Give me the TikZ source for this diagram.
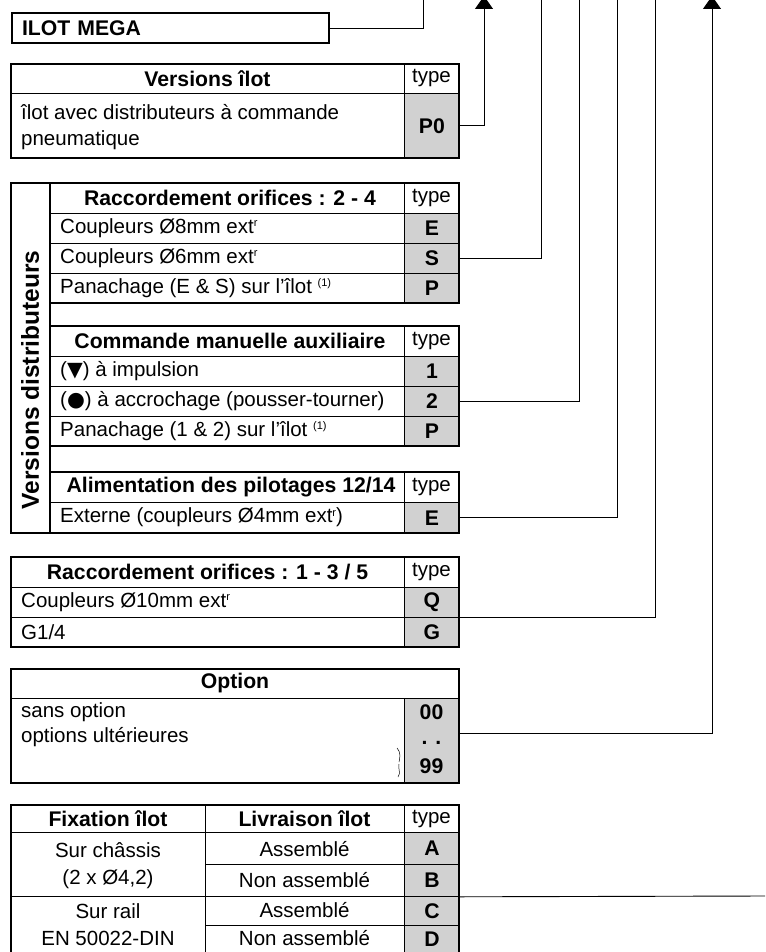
\documentclass[tikz,border=0pt]{standalone}
\usepackage{fontspec}
\setmainfont{Liberation Sans}
\newfontfamily\symfont{DejaVu Sans}
\usetikzlibrary{arrows.meta}

\newcommand\bigfont{\fontsize{20.5}{24}\selectfont}
\newcommand\boldfont{\fontsize{21.2}{24}\selectfont\bfseries}
\newcommand\supr[1]{\raisebox{0.6ex}{\fontsize{11}{11}\selectfont #1}}

\tikzset{
  frame/.style={draw, line width=2pt},
  rule/.style={line width=0.8pt},
  link/.style={line width=0.9pt},
  typecell/.style={draw, line width=0.8pt, fill=black!18, anchor=north west,
    minimum width=55pt, inner sep=0pt, font=\boldfont},
  head/.style={font=\boldfont},
  txt/.style={anchor=west, inner sep=0pt},
  up/.style={link, -{Triangle[length=13pt,width=18pt]}},
}

\begin{document}
\begin{tikzpicture}[x=1pt, y=-1pt, font=\bigfont]
    \useasboundingbox (0,0) rectangle (765,952);

    % ilot
    \node[frame, anchor=north west, minimum height=30pt, text width=297pt,
      inner xsep=10pt, inner ysep=0pt, font=\boldfont] (ilot) at (11,12) {ILOT MEGA};

    % versions ilot
    \draw[rule] (11,93) -- (459,93) (404,64) -- (404,93);
    \node[typecell, minimum height=65pt] (tP0) at (404,93) {P0};
    \draw[frame] (11,64) rectangle (459,158);
    \node[head] (hIlot) at (207.5,78.5) {Versions îlot};
    \node (yIlot) at (431.5,78.5) {type};
    \node[txt] (vIlot1) at (21,112) {îlot avec distributeurs à commande};
    \node[txt] (vIlot2) at (21,140) {pneumatique};

    % versions distributeurs
    \draw[frame] (11,183) rectangle (50,533);
    \node[rotate=90, font=\fontsize{24.5}{26}\selectfont\bfseries] (vDist) at (30,380) {Versions distributeurs};

    % raccordement 2-4
    \draw[rule] (50,213) -- (404,213) (50,243) -- (404,243) (50,273) -- (404,273)
      (404,183) -- (404,213);
    \node[typecell, minimum height=30pt] (tE1) at (404,213) {E};
    \node[typecell, minimum height=30pt] (tS) at (404,243) {S};
    \node[typecell, minimum height=30pt] (tP1) at (404,273) {P};
    \draw[frame] (50,183) rectangle (459,303);
    \node[head] (hRa) at (230,198) {Raccordement orifices : 2 - 4};
    \node (yRa) at (431.5,198) {type};
    \node[txt] (ra1) at (60,228) {Coupleurs Ø8mm ext\supr{r}};
    \node[txt] (ra2) at (60,258) {Coupleurs Ø6mm ext\supr{r}};
    \node[txt] (ra3) at (60,288) {Panachage (E \& S) sur l’îlot \supr{(1)}};

    % commande manuelle
    \draw[rule] (50,356) -- (404,356) (50,386) -- (404,386) (50,416) -- (404,416)
      (404,326) -- (404,356);
    \node[typecell, minimum height=30pt] (t1) at (404,356) {1};
    \node[typecell, minimum height=30pt] (t2) at (404,386) {2};
    \node[typecell, minimum height=30pt] (tP2) at (404,416) {P};
    \draw[frame] (50,326) rectangle (459,446);
    \node[head] (hCm) at (230,341) {Commande manuelle auxiliaire};
    \node (yCm) at (431.5,341) {type};
    \node[txt] (cm1) at (60,371) {({\symfont ▼}) à impulsion};
    \node[txt] (cm2) at (60,401) {({\symfont ●}) à accrochage (pousser-tourner)};
    \node[txt] (cm3) at (60,431) {Panachage (1 \& 2) sur l’îlot \supr{(1)}};

    % alimentation pilotages
    \draw[rule] (50,502) -- (404,502) (404,472) -- (404,502);
    \node[typecell, minimum height=31pt] (tE2) at (404,502) {E};
    \draw[frame] (50,472) rectangle (459,533);
    \node[head] (hAl) at (231,487) {Alimentation des pilotages 12/14};
    \node (yAl) at (431.5,487) {type};
    \node[txt] (al1) at (60,517.5) {Externe (coupleurs Ø4mm ext\supr{r})};

    % raccordement 1-3/5
    \draw[rule] (11,587) -- (404,587) (11,617) -- (404,617) (404,557) -- (404,587);
    \node[typecell, minimum height=30pt] (tQ) at (404,587) {Q};
    \node[typecell, minimum height=30pt] (tG) at (404,617) {G};
    \draw[frame] (11,557) rectangle (459,647);
    \node[head] (hRb) at (207.5,572) {Raccordement orifices : 1 - 3 / 5};
    \node (yRb) at (431.5,572) {type};
    \node[txt] (rb1) at (21,602) {Coupleurs Ø10mm ext\supr{r}};
    \node[txt] (rb2) at (21,632) {G1/4};

    % option
    \draw[rule] (11,698) -- (459,698);
    \node[typecell, minimum height=85pt] (tOpt) at (404,698) {};
    \draw[frame] (11,669) rectangle (459,783);
    \node[head] (hOpt) at (235,683.5) {Option};
    \node[txt] (op1) at (21,712) {sans option};
    \node[txt] (op2) at (21,737) {options ultérieures};
    \node[head] (o00) at (431.5,712) {00};
    \node[head] (oDots) at (431.5,743) {. .};
    \node[head] (o99) at (431.5,766) {99};
    \draw[line width=0.5pt] (397,748) .. controls (401,752) and (400,758) .. (399,762)
      (399,764) .. controls (398,769) and (401,773) .. (398,777);

    % fixation / livraison
    \draw[rule] (11,832) -- (404,832) (11,896) -- (404,896)
      (205,864) -- (404,864) (205,925) -- (404,925)
      (205,805) -- (205,960) (404,805) -- (404,832);
    \node[typecell, minimum height=32pt] (tA) at (404,832) {A};
    \node[typecell, minimum height=32pt] (tB) at (404,864) {B};
    \node[typecell, minimum height=29pt] (tC) at (404,896) {C};
    \node[typecell, minimum height=28pt] (tD) at (404,925) {D};
    \draw[frame] (11,960) -- (11,805) -- (459,805) -- (459,960);
    \node[head] (hFix) at (108,818.5) {Fixation îlot};
    \node[head] (hLiv) at (304.5,818.5) {Livraison îlot};
    \node (yFix) at (431.5,818.5) {type};
    \node (fx1) at (108,850) {Sur châssis};
    \node (fx2) at (108,879) {(2 x Ø4,2)};
    \node (fx3) at (108,911) {Sur rail};
    \node (fx4) at (108,938) {EN 50022-DIN};
    \node (lv1) at (304.5,849) {Assemblé};
    \node (lv2) at (304.5,880) {Non assemblé};
    \node (lv3) at (304.5,910.5) {Assemblé};
    \node (lv4) at (304.5,938) {Non assemblé};

    % connectors
    \coordinate (upIlot) at (423,0);
    \coordinate (upP0) at (484,-4);
    \coordinate (upS) at (541,0);
    \coordinate (up2) at (579,0);
    \coordinate (upE) at (617,0);
    \coordinate (upQ) at (655,0);
    \coordinate (upOpt) at (712,-4);
    \coordinate (endFix) at (765,896);
    \draw[link] (ilot.east) -| (upIlot);
    \draw[up] (tP0.east) -| (upP0);
    \draw[link] (tS.east) -| (upS);
    \draw[link] (t2.east) -| (up2);
    \draw[link] (tE2.east) -| (upE);
    \draw[link] (tQ.south east) -| (upQ);
    \draw[up] ([yshift=7pt]tOpt.east) -| (upOpt);
    \draw[link] (tB.south east) -- (endFix);
\end{tikzpicture}
\end{document}
